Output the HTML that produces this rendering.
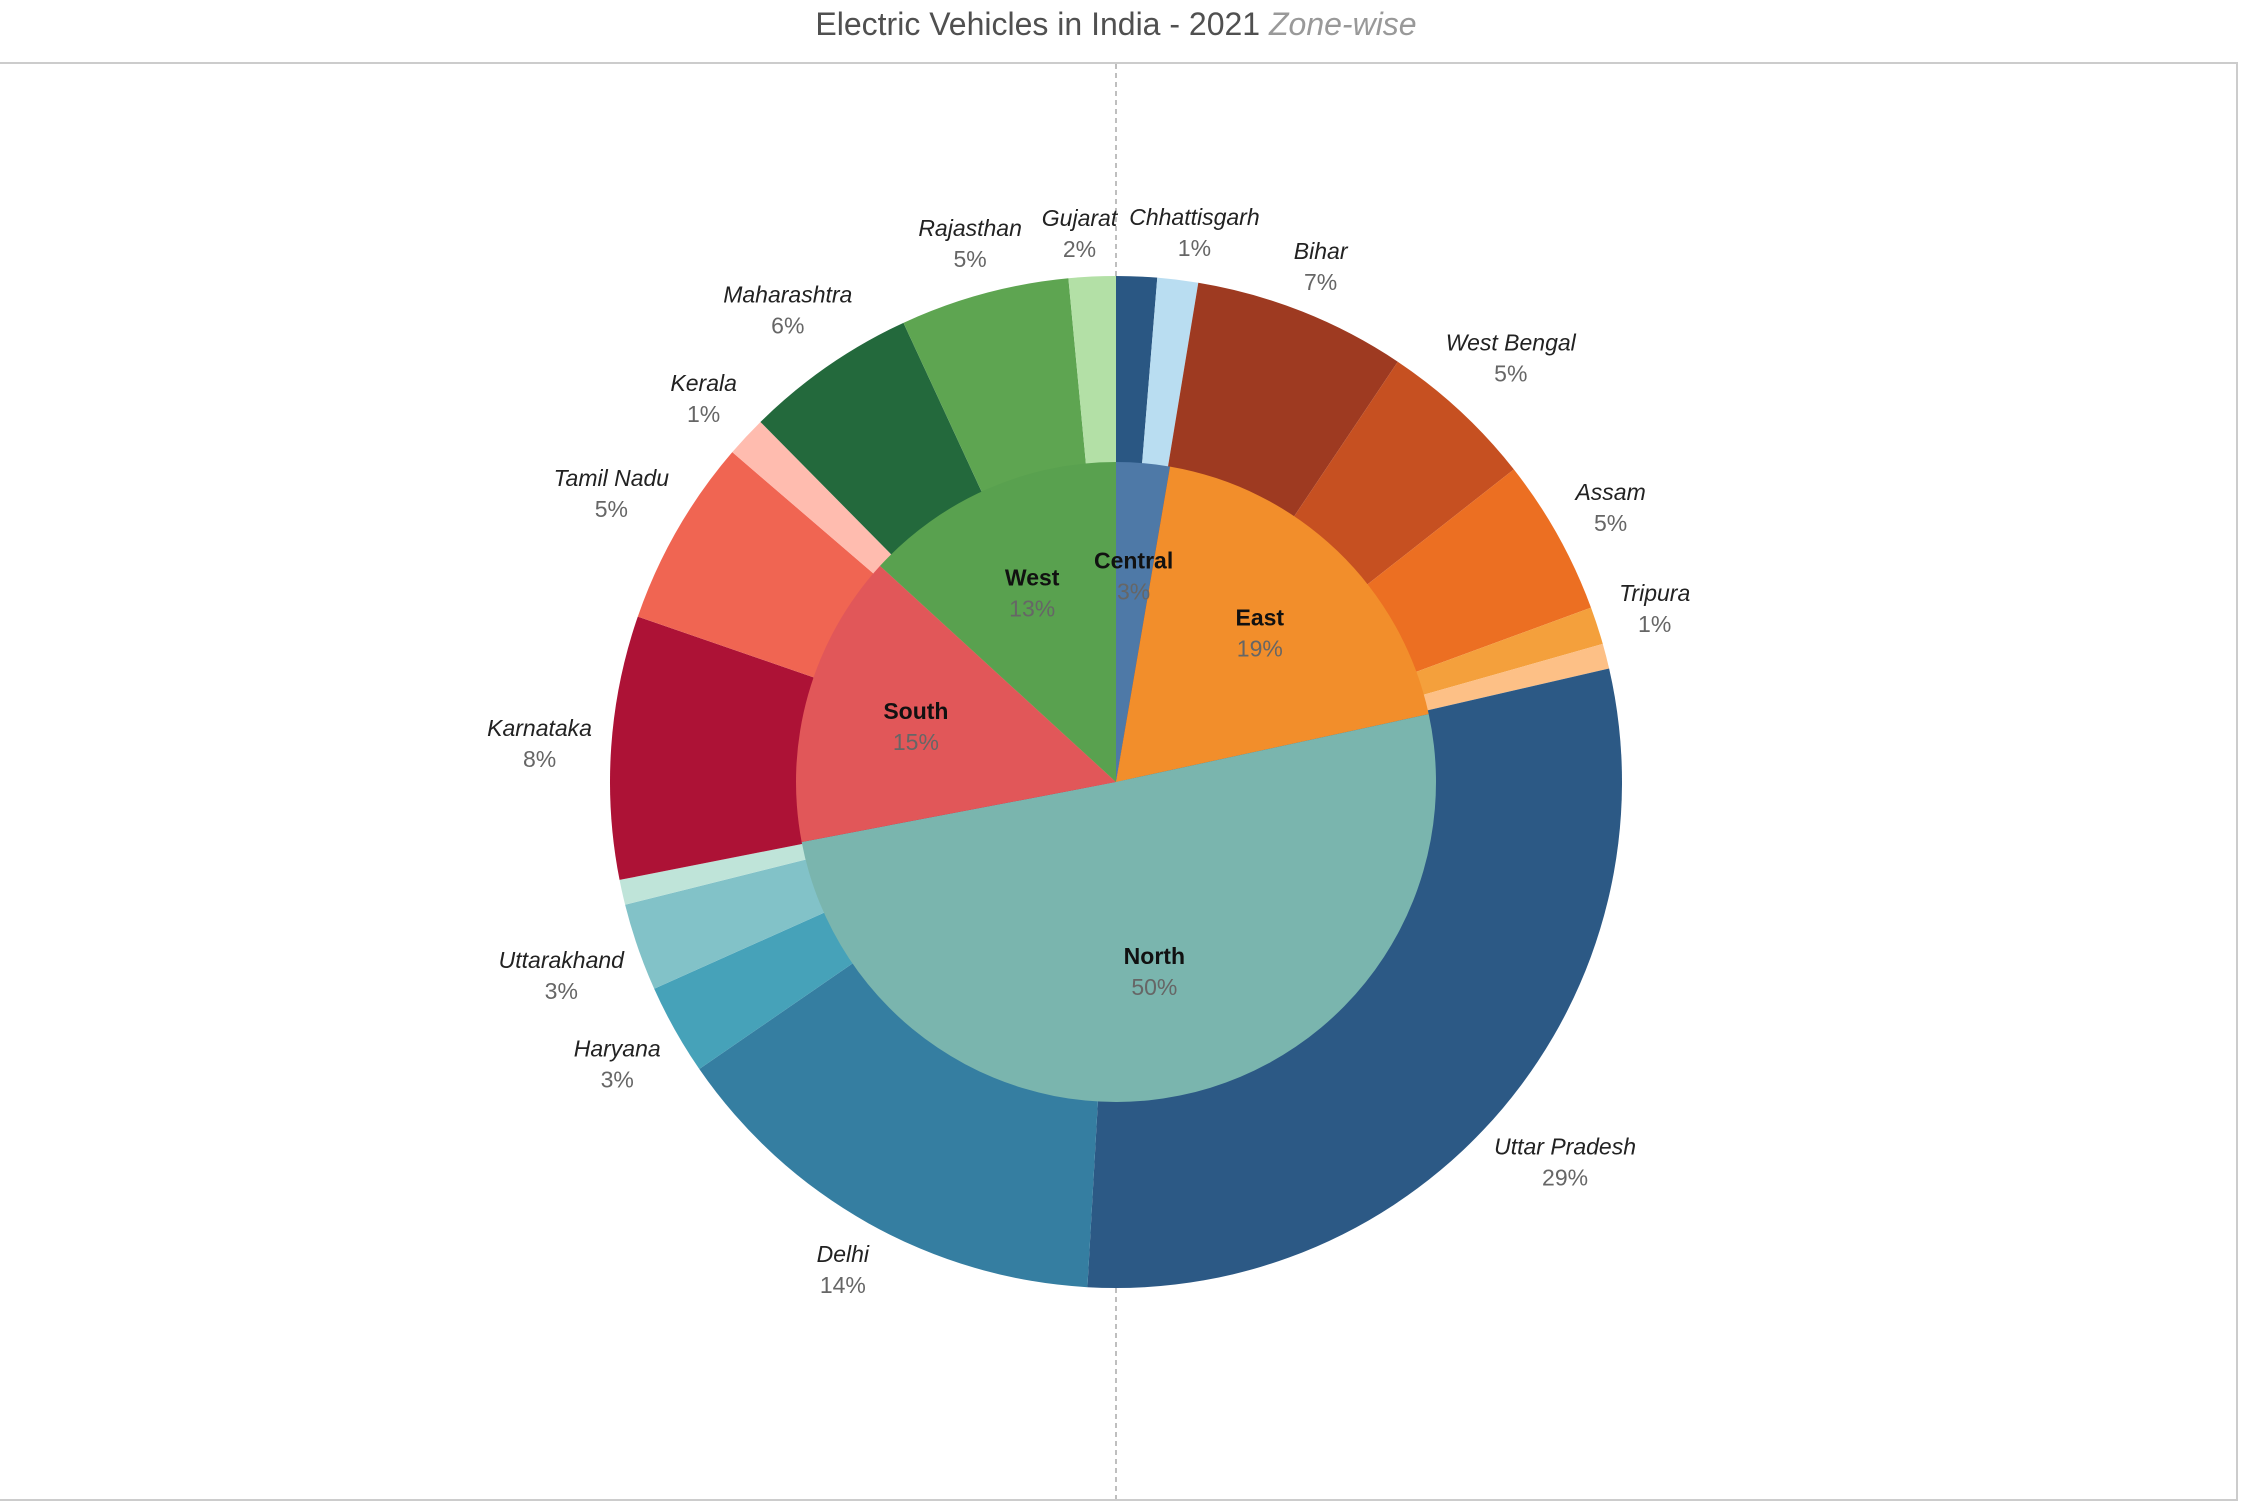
<!DOCTYPE html>
<html><head><meta charset="utf-8">
<style>
html,body{margin:0;padding:0;background:#fff;}
svg{display:block;}
</style></head>
<body>
<svg id="chart" width="2244" height="1512" xmlns="http://www.w3.org/2000/svg" font-family="Liberation Sans, sans-serif">
  <text x="1116" y="35" text-anchor="middle" font-size="32" fill="#505050"><tspan>Electric Vehicles in India - 2021 </tspan><tspan font-style="italic" fill="#999">Zone-wise</tspan></text>
  <rect x="-2" y="63" width="2239" height="1437" fill="none" stroke="#cccccc" stroke-width="2"/>
  <line x1="1116" y1="64" x2="1116" y2="1499" stroke="#aaaaaa" stroke-width="1.5" stroke-dasharray="5,4"/>
  <g id="outer"></g>
  <g id="inner"></g>
  <g id="labels"></g>
</svg>
<script>
const stateNames = ["Madhya Pradesh","Chhattisgarh","Bihar","West Bengal","Assam","Tripura","Other East","Uttar Pradesh","Delhi","Haryana","Uttarakhand","Other North","Karnataka","Tamil Nadu","Kerala","Maharashtra","Rajasthan","Gujarat"];
const stateValues = [1.3,1.3,6.8,5.0,5.0,1.2,0.8,29.5,14.5,2.9,2.8,0.8,8.4,6.0,1.3,5.5,5.4,1.5];
const stateLabels = ["","1%","7%","5%","5%","1%","","29%","14%","3%","3%","","8%","5%","1%","6%","5%","2%"];
const stateColors = ["#2a5783","#b9ddf1","#9e3a21","#c65021","#ec6f22","#f4a03c","#fdc086","#2c5985","#357ea1","#46a2b9","#82c2c8","#bfe4d9","#ad1236","#f06552","#ffbcaf","#23693c","#5ea551","#b3e0a6"];
const zoneNames = ["Central","East","North","South","West"];
const zoneValues = [2.7,18.9,50.4,14.8,13.2];
const zoneLabels = ["3%","19%","50%","15%","13%"];
const zoneColors = ["#4e79a7","#f28e2b","#7ab5ae","#e15759","#59a14f"];

const CX=1116, CY=782, R=506, RI=320;
const NS="http://www.w3.org/2000/svg";
function pt(a,r){return [CX+r*Math.sin(a), CY-r*Math.cos(a)];}
function arc(a0,a1,r){
  const p0=pt(a0,r),p1=pt(a1,r),lg=(a1-a0)>Math.PI?1:0;
  return `M${CX},${CY}L${p0[0]},${p0[1]}A${r},${r} 0 ${lg} 1 ${p1[0]},${p1[1]}Z`;
}
function txt(parent,x,y,s,size,fill,italic,bold){
  const t=document.createElementNS(NS,"text");
  t.setAttribute("x",x);t.setAttribute("y",y);t.setAttribute("text-anchor","middle");
  t.setAttribute("font-size",size);t.setAttribute("fill",fill);
  if(italic)t.setAttribute("font-style","italic");
  if(bold)t.setAttribute("font-weight","bold");
  t.textContent=s;parent.appendChild(t);return t;
}
const outer=document.getElementById("outer"), inner=document.getElementById("inner"), labels=document.getElementById("labels");
let tot=stateValues.reduce((a,b)=>a+b,0), acc=0;
const placed=[];
stateValues.forEach((v,i)=>{
  const a0=acc/tot*2*Math.PI; acc+=v; const a1=acc/tot*2*Math.PI;
  const p=document.createElementNS(NS,"path");
  p.setAttribute("d",arc(a0,a1,R));p.setAttribute("fill",stateColors[i]);
  
  
  outer.appendChild(p);
  if(stateLabels[i]){
    const n=txt(labels,0,0,stateNames[i],23,"#222",true,false);
    
    
    const q=txt(labels,0,0,stateLabels[i],23,"#666",false,false);
    
    
    const w=n.getComputedTextLength();
    const m=(a0+a1)/2;
    const d=R+29+Math.abs(Math.sin(m))*w*0.4+Math.abs(Math.cos(m))*14;
    const c=pt(m,d);
    placed.push({n,q,x:c[0],y:c[1],w});
  }
});
// resolve overlaps by pushing apart horizontally
for(let it=0;it<20;it++){
  for(let a=0;a<placed.length;a++)for(let b=a+1;b<placed.length;b++){
    const A=placed[a],B=placed[b];
    const ox=(A.w+B.w)/2+12-Math.abs(A.x-B.x), oy=64-Math.abs(A.y-B.y);
    if(ox>0&&oy>0){const s=A.x<B.x?-1:1;A.x+=s*ox/2;B.x-=s*ox/2;}
  }
}
placed.forEach(o=>{
  o.n.setAttribute("x",o.x);o.n.setAttribute("y",o.y-6);
  o.q.setAttribute("x",o.x);o.q.setAttribute("y",o.y+25);
});
tot=zoneValues.reduce((a,b)=>a+b,0); acc=0;
zoneValues.forEach((v,i)=>{
  const a0=acc/tot*2*Math.PI; acc+=v; const a1=acc/tot*2*Math.PI;
  const p=document.createElementNS(NS,"path");
  p.setAttribute("d",arc(a0,a1,RI));p.setAttribute("fill",zoneColors[i]);
  
  
  inner.appendChild(p);
});
acc=0;
zoneValues.forEach((v,i)=>{
  const a0=acc/tot*2*Math.PI; acc+=v; const a1=acc/tot*2*Math.PI;
  const m=(a0+a1)/2, c=pt(m,i===2?192:208);
  const n=txt(labels,c[0],c[1]-6,zoneNames[i],23,"#111",false,true);
  
  
  const q=txt(labels,c[0],c[1]+25,zoneLabels[i],23,"#666",false,false);
  
  
});
</script>
</body></html>
